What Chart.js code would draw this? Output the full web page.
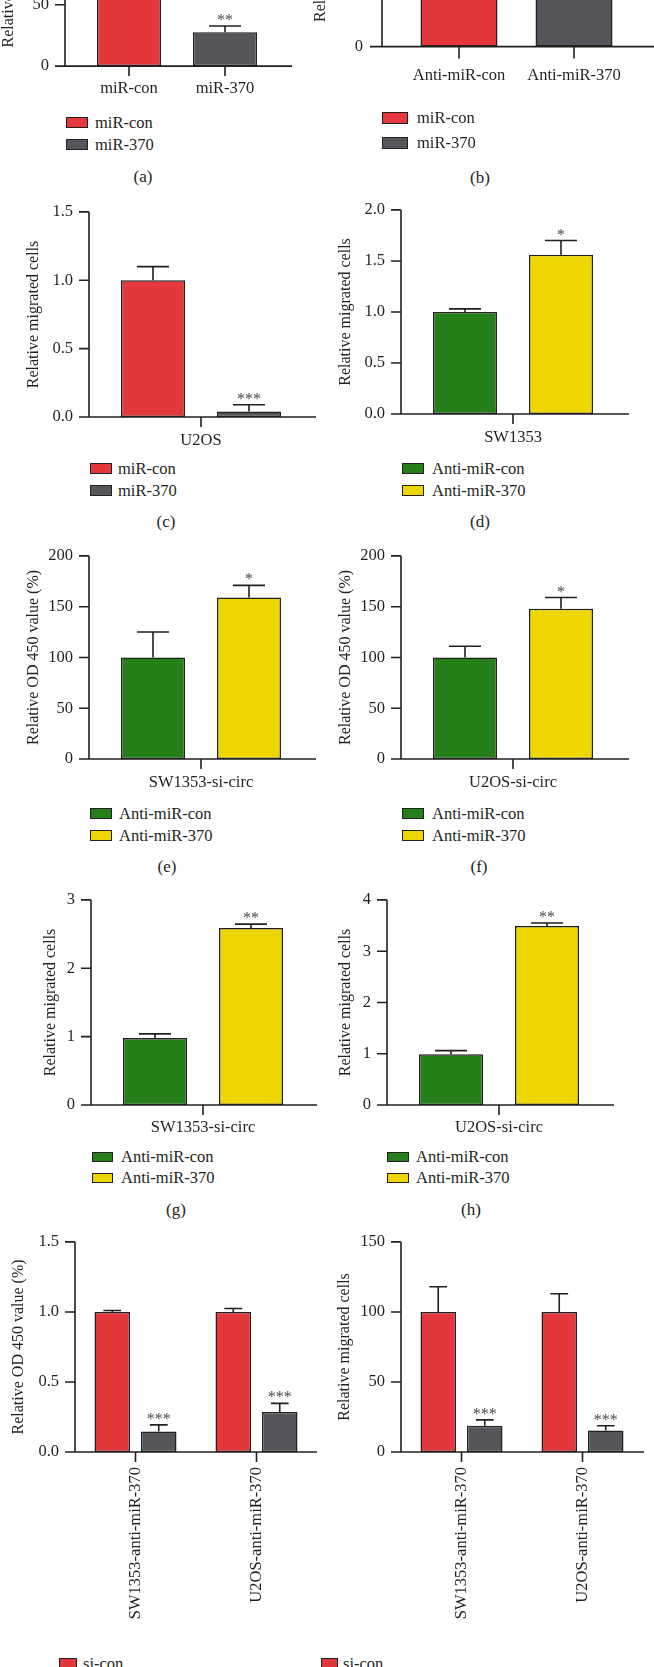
<!DOCTYPE html>
<html>
<head>
<meta charset="utf-8">
<script src="https://cdn.jsdelivr.net/npm/chart.js@4.4.0/dist/chart.umd.min.js"></script>
<style>
  body { margin:0; width:654px; height:1667px; overflow:hidden; background:#fff; position:relative;
         font-family:'Liberation Serif','Times New Roman',serif; color:#231f20; }
  canvas { position:absolute; }
  .lg { position:absolute; font-size:16.5px; line-height:1; white-space:nowrap; transform:translateY(-50%); }
  .box { position:absolute; border:1.5px solid #231f20; box-sizing:border-box; }
  .tag { position:absolute; font-size:17px; line-height:1; transform:translate(-50%,-50%); }
</style>
</head>
<body>
<script>
const RED = '#e4373b', GREY = '#55565b', GREEN = '#268019', YELLOW = '#eed600';
const INK = '#231f20';
const FONT = "'Liberation Serif', 'Times New Roman', serif";
const TITLE_OD = 'Relative OD 450 value (%)';
const TITLE_MIG = 'Relative migrated cells';

// (a)
const aCats = ['miR-con', 'miR-370'];
const aNames = ['miR-con', 'miR-370'];
const aVals = [[100, null], [null, 27.5]];
const aErrs = [[110, null], [null, 32.6]];
const aStars = [['', ''], ['', '**']];
const aTicks = [0, 50, 100, 150];
// (b)
const bCats = ['Anti-miR-con', 'Anti-miR-370'];
const bNames = ['miR-con', 'miR-370'];
const bVals = [[100, null], [null, 145]];
const bErrs = [[112, null], [null, 160]];
const bStars = [['', ''], ['', '*']];
const bTicks = [0, 50, 100, 150];
// (c)
const cCats = ['U2OS'];
const cNames = ['miR-con', 'miR-370'];
const cVals = [[1.0], [0.04]];
const cErrs = [[1.1], [0.09]];
const cStars = [[''], ['***']];
const cTicks = [0, 0.5, 1.0, 1.5];
// (d)
const dCats = ['SW1353'];
const antiNames = ['Anti-miR-con', 'Anti-miR-370'];
const dVals = [[1.0], [1.56]];
const dErrs = [[1.03], [1.7]];
const dStars = [[''], ['*']];
const dTicks = [0, 0.5, 1.0, 1.5, 2.0];
// (e)
const eCats = ['SW1353-si-circ'];
const eVals = [[100], [159]];
const eErrs = [[125], [171]];
const eStars = [[''], ['*']];
const eTicks = [0, 50, 100, 150, 200];
// (f)
const fCats = ['U2OS-si-circ'];
const fVals = [[100], [148]];
const fErrs = [[111], [159]];
const fStars = [[''], ['*']];
const fTicks = [0, 50, 100, 150, 200];
// (g)
const gCats = ['SW1353-si-circ'];
const gVals = [[0.98], [2.59]];
const gErrs = [[1.04], [2.645]];
const gStars = [[''], ['**']];
const gTicks = [0, 1, 2, 3];
// (h)
const hCats = ['U2OS-si-circ'];
const hVals = [[0.99], [3.49]];
const hErrs = [[1.06], [3.55]];
const hStars = [[''], ['**']];
const hTicks = [0, 1, 2, 3, 4];
// (i)
const iCats = ['SW1353-anti-miR-370', 'U2OS-anti-miR-370'];
const siNames = ['si-con', 'si-circ'];
const iVals = [[1.0, 1.0], [0.146, 0.285]];
const iErrs = [[1.01, 1.025], [0.194, 0.347]];
const iStars = [['', ''], ['***', '***']];
const iTicks = [0, 0.5, 1.0, 1.5];
// (j)
const jVals = [[100, 100], [18.7, 15.3]];
const jErrs = [[118, 113], [22.9, 18.7]];
const jStars = [['', ''], ['***', '***']];
const jTicks = [0, 50, 100, 150];

// axes, error bars and stars, Prism style
const prism = {
  id: 'prism',
  afterDatasetsDraw(chart, args, p) {
    const { ctx, scales: { x, y } } = chart;
    const y0 = y.getPixelForValue(0);
    const ax = p.axisX;
    ctx.save();
    ctx.strokeStyle = INK;
    ctx.lineWidth = 1.6;
    ctx.beginPath();
    ctx.moveTo(ax, y.getPixelForValue(y.max));
    ctx.lineTo(ax, y0);
    y.ticks.forEach(t => {
      const py = y.getPixelForValue(t.value);
      ctx.moveTo(ax - p.tick, py);
      ctx.lineTo(ax, py);
    });
    ctx.moveTo(ax - p.tick, y0);
    ctx.lineTo(p.xEnd, y0);
    x.ticks.forEach((t, i) => {
      const px = x.getPixelForTick(i);
      ctx.moveTo(px, y0);
      ctx.lineTo(px, y0 + p.tick);
    });
    ctx.stroke();
    chart.data.datasets.forEach((ds, k) => {
      chart.getDatasetMeta(k).data.forEach((bar, i) => {
        const e = p.errs[k][i];
        if (e == null) return;
        const top = y.getPixelForValue(e);
        ctx.beginPath();
        ctx.moveTo(bar.x, bar.y);
        ctx.lineTo(bar.x, top);
        ctx.moveTo(bar.x - bar.width / 4, top);
        ctx.lineTo(bar.x + bar.width / 4, top);
        ctx.stroke();
        const s = p.stars[k][i];
        if (s) {
          ctx.fillStyle = '#4a4a4a';
          ctx.font = '16px ' + FONT;
          ctx.textAlign = 'center';
          ctx.textBaseline = 'alphabetic';
          ctx.fillText(s, bar.x, top - 1);
        }
      });
    });
    ctx.restore();
  }
};
Chart.register(prism);

function tag(txt, x, y) {
  const d = document.createElement('div');
  d.className = 'tag';
  d.textContent = txt;
  d.style.left = x + 'px';
  d.style.top = y + 'px';
  document.body.appendChild(d);
}

function legend(names, colors, g) {
  names.forEach((n, k) => {
    const b = document.createElement('div');
    b.className = 'box';
    b.style.left = g.lx + 'px';
    b.style.top = (g.ly + k * g.pitch) + 'px';
    b.style.width = g.bw + 'px';
    b.style.height = g.bh + 'px';
    b.style.background = colors[k];
    document.body.appendChild(b);
    const t = document.createElement('div');
    t.className = 'lg';
    t.textContent = n;
    t.style.left = g.tx + 'px';
    t.style.top = (g.ly + k * g.pitch + g.bh / 2) + 'px';
    document.body.appendChild(t);
  });
}

function panel(o) {
  const cv = document.createElement('canvas');
  cv.width = o.w;
  cv.height = o.h;
  cv.style.left = o.l + 'px';
  cv.style.top = o.t + 'px';
  document.body.appendChild(cv);
  const dec = o.ticks.some(v => v % 1 !== 0) ? 1 : 0;
  new Chart(cv, {
    type: 'bar',
    data: {
      labels: o.cats,
      datasets: o.vals.map((v, k) => ({
        label: o.names[k],
        data: v,
        backgroundColor: o.colors[k],
        borderColor: INK,
        borderWidth: 1.5,
        borderSkipped: false,
        skipNull: true,
        categoryPercentage: o.catPct,
        barPercentage: o.barPct
      }))
    },
    options: {
      responsive: false,
      animation: false,
      devicePixelRatio: 1,
      layout: { padding: { top: o.topY - o.t, right: o.l + o.w - o.chartR, left: 0, bottom: 0 } },
      plugins: {
        legend: { display: false },
        tooltip: { enabled: false },
        prism: { axisX: o.axisX - o.l, xEnd: o.xEnd - o.l, tick: o.tick, errs: o.errs, stars: o.stars }
      },
      scales: {
        x: {
          offset: true,
          grid: { display: false, drawTicks: false },
          border: { display: false },
          ticks: {
            color: INK, font: { family: FONT, size: 16.5 }, padding: o.xPad,
            maxRotation: o.rot, minRotation: o.rot, autoSkip: false
          },
          afterFit: s => { s.height = o.t + o.h - o.zeroY; }
        },
        y: {
          min: 0,
          max: o.ticks[o.ticks.length - 1],
          grid: { display: false, drawTicks: false },
          border: { display: false },
          ticks: {
            stepSize: o.ticks[1] - o.ticks[0],
            color: INK, font: { family: FONT, size: 16.5 },
            padding: o.chartL - o.axisX + o.tick + o.gap,
            callback: v => Number(v).toFixed(dec)
          },
          title: {
            display: true, text: o.title, color: INK, font: { family: FONT, size: 16 },
            padding: { top: o.titleX - o.l - 9.6, bottom: 0 }
          },
          afterFit: s => { s.width = o.chartL - o.l; }
        }
      }
    }
  });
}

// (a)
panel({ l: -10, t: -160, w: 337, h: 268, axisX: 65, chartL: 81, chartR: 273, xEnd: 292, zeroY: 68, topY: -139,
  tick: 10, gap: 6, titleX: 9, xPad: 13, rot: 0, catPct: 1, barPct: 64 / 96,
  cats: aCats, names: aNames, colors: [RED, GREY], vals: aVals, errs: aErrs, stars: aStars, ticks: aTicks,
  title: 'Relative OD 450 value' });
legend(aNames, [RED, GREY], { lx: 66, ly: 117, pitch: 22, bw: 22, bh: 11, tx: 95 });
tag('(a)', 143, 176);

// (b)
panel({ l: 300, t: -226, w: 354, h: 321, axisX: 382, chartL: 401.5, chartR: 631.5, xEnd: 660, zeroY: 55, topY: -204,
  tick: 12, gap: 7, titleX: 321, xPad: 19, rot: 0, catPct: 1, barPct: 77 / 115,
  cats: bCats, names: bNames, colors: [RED, GREY], vals: bVals, errs: bErrs, stars: bStars, ticks: bTicks, title: TITLE_OD });
legend(bNames, [RED, GREY], { lx: 382, ly: 112, pitch: 25, bw: 26, bh: 12, tx: 417 });
tag('(b)', 480, 177);

// (c)
panel({ l: 0, t: 186, w: 327, h: 271, axisX: 89, chartL: 89, chartR: 313, xEnd: 316, zeroY: 417, topY: 206,
  tick: 10, gap: 6, titleX: 34, xPad: 14, rot: 0, catPct: 192 / 224, barPct: 64 / 96,
  cats: cCats, names: cNames, colors: [RED, GREY], vals: cVals, errs: cErrs, stars: cStars, ticks: cTicks, title: TITLE_MIG });
legend(cNames, [RED, GREY], { lx: 90, ly: 463, pitch: 22, bw: 22, bh: 11, tx: 118 });
tag('(c)', 166, 521);

// (d)
panel({ l: 327, t: 184, w: 327, h: 270, axisX: 401, chartL: 401, chartR: 625, xEnd: 629, zeroY: 414, topY: 204,
  tick: 10, gap: 6, titleX: 346, xPad: 14, rot: 0, catPct: 192 / 224, barPct: 64 / 96,
  cats: dCats, names: antiNames, colors: [GREEN, YELLOW], vals: dVals, errs: dErrs, stars: dStars, ticks: dTicks, title: TITLE_MIG });
legend(antiNames, [GREEN, YELLOW], { lx: 402, ly: 463, pitch: 22, bw: 22, bh: 11, tx: 432 });
tag('(d)', 480, 521);

// (e)
panel({ l: 0, t: 530, w: 327, h: 269, axisX: 89, chartL: 89, chartR: 313, xEnd: 316, zeroY: 759, topY: 550,
  tick: 10, gap: 6, titleX: 33.5, xPad: 14, rot: 0, catPct: 192 / 224, barPct: 64 / 96,
  cats: eCats, names: antiNames, colors: [GREEN, YELLOW], vals: eVals, errs: eErrs, stars: eStars, ticks: eTicks, title: TITLE_OD });
legend(antiNames, [GREEN, YELLOW], { lx: 90, ly: 808, pitch: 22, bw: 22, bh: 11, tx: 119 });
tag('(e)', 167, 866);

// (f)
panel({ l: 327, t: 530, w: 327, h: 269, axisX: 401, chartL: 401, chartR: 625, xEnd: 629, zeroY: 759, topY: 550,
  tick: 10, gap: 6, titleX: 346, xPad: 14, rot: 0, catPct: 192 / 224, barPct: 64 / 96,
  cats: fCats, names: antiNames, colors: [GREEN, YELLOW], vals: fVals, errs: fErrs, stars: fStars, ticks: fTicks, title: TITLE_OD });
legend(antiNames, [GREEN, YELLOW], { lx: 402, ly: 808, pitch: 22, bw: 22, bh: 11, tx: 432 });
tag('(f)', 479, 866);

// (g)
panel({ l: 0, t: 874, w: 327, h: 271, axisX: 91, chartL: 91, chartR: 315, xEnd: 317, zeroY: 1105, topY: 894,
  tick: 10, gap: 6, titleX: 51, xPad: 13, rot: 0, catPct: 192 / 224, barPct: 64 / 96,
  cats: gCats, names: antiNames, colors: [GREEN, YELLOW], vals: gVals, errs: gErrs, stars: gStars, ticks: gTicks, title: TITLE_MIG });
legend(antiNames, [GREEN, YELLOW], { lx: 92, ly: 1152, pitch: 21, bw: 21, bh: 10, tx: 121 });
tag('(g)', 176, 1209);

// (h)
panel({ l: 327, t: 874, w: 327, h: 271, axisX: 387, chartL: 387, chartR: 611, xEnd: 614, zeroY: 1105, topY: 894,
  tick: 10, gap: 6, titleX: 346, xPad: 13, rot: 0, catPct: 192 / 224, barPct: 64 / 96,
  cats: hCats, names: antiNames, colors: [GREEN, YELLOW], vals: hVals, errs: hErrs, stars: hStars, ticks: hTicks, title: TITLE_MIG });
legend(antiNames, [GREEN, YELLOW], { lx: 387, ly: 1152, pitch: 21, bw: 22, bh: 10, tx: 416 });
tag('(h)', 471, 1209);

// (i)
panel({ l: -5, t: 1216, w: 332, h: 420, axisX: 75, chartL: 75, chartR: 317, xEnd: 317, zeroY: 1452, topY: 1236,
  tick: 10, gap: 6, titleX: 18.5, xPad: 15, rot: 90, catPct: 93 / 121, barPct: 35.6 / 46.6,
  cats: iCats, names: siNames, colors: [RED, GREY], vals: iVals, errs: iErrs, stars: iStars, ticks: iTicks, title: TITLE_OD });
legend(siNames, [RED, GREY], { lx: 59, ly: 1658, pitch: 21, bw: 18, bh: 11, tx: 83 });

// (j)
panel({ l: 327, t: 1216, w: 327, h: 420, axisX: 401, chartL: 401, chartR: 643, xEnd: 644, zeroY: 1452, topY: 1236,
  tick: 10, gap: 6, titleX: 345, xPad: 15, rot: 90, catPct: 93 / 121, barPct: 35.6 / 46.6,
  cats: iCats, names: siNames, colors: [RED, GREY], vals: jVals, errs: jErrs, stars: jStars, ticks: jTicks, title: TITLE_MIG });
legend(siNames, [RED, GREY], { lx: 321, ly: 1658, pitch: 21, bw: 17, bh: 11, tx: 343 });
</script>
</body>
</html>
